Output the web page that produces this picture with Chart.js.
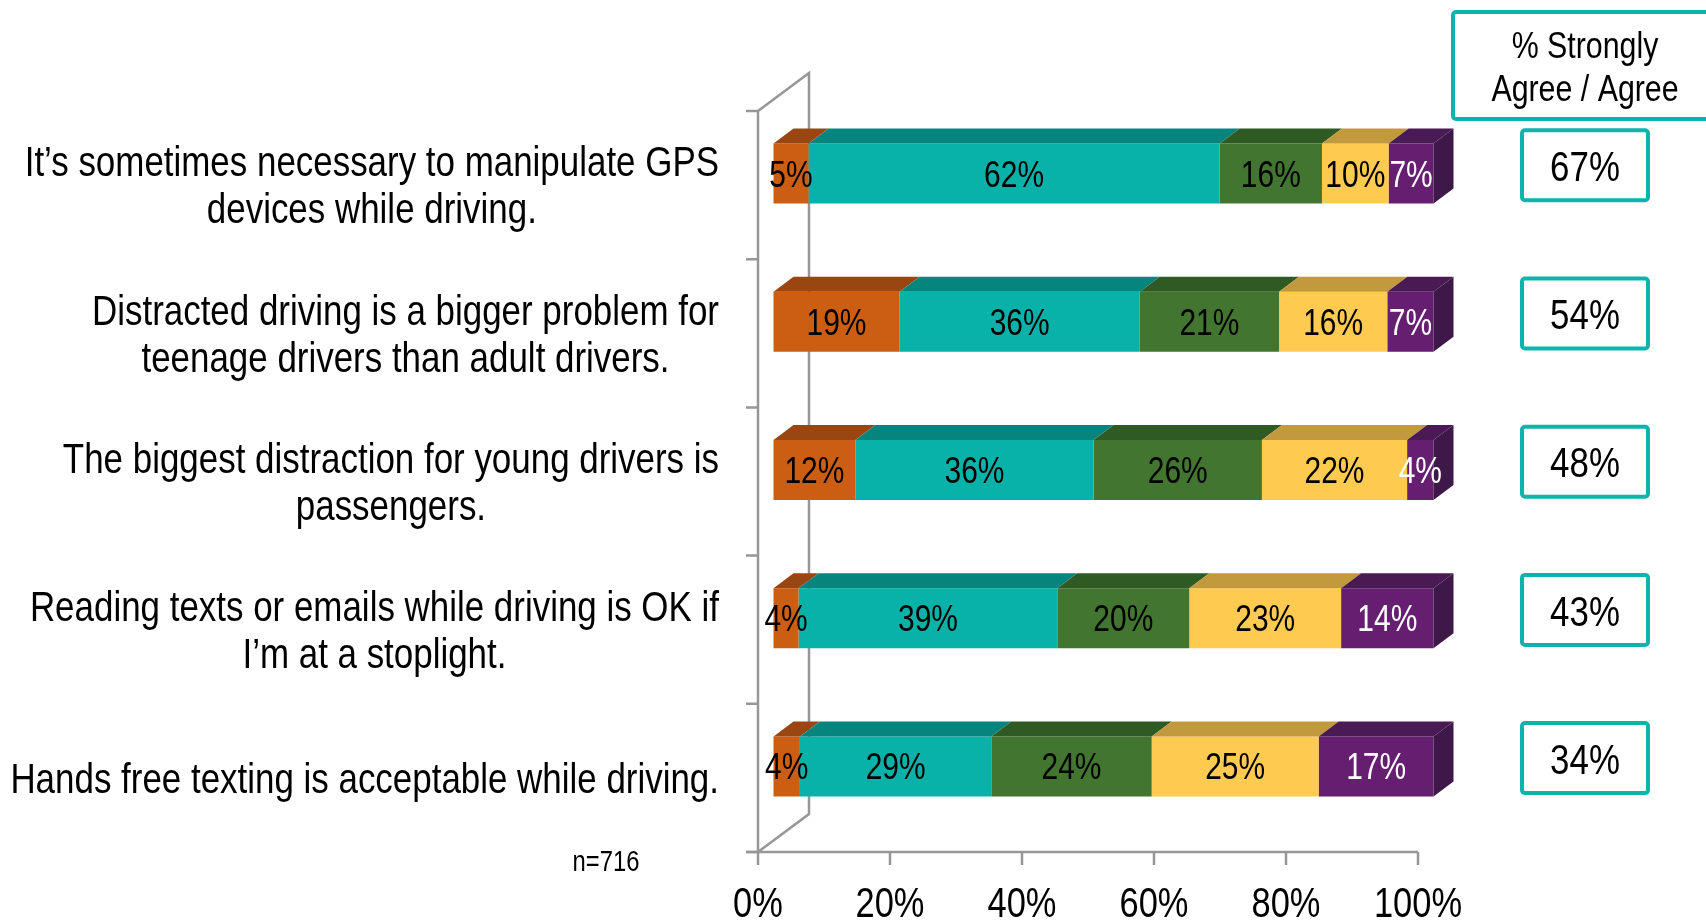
<!DOCTYPE html>
<html>
<head>
<meta charset="utf-8">
<script src="https://cdn.jsdelivr.net/npm/chart.js@4"></script>
<style>
  html, body { margin: 0; padding: 0; background: #ffffff; }
  #wrap { position: relative; width: 1706px; height: 922px; }
</style>
</head>
<body>
<div id="wrap"><canvas id="c"></canvas></div>
<script>
// ---------------- data ----------------
const categories = [
  ["It\u2019s sometimes necessary to manipulate GPS", "devices while driving."],
  ["Distracted driving is a bigger problem for", "teenage drivers than adult drivers."],
  ["The biggest distraction for young drivers is", "passengers."],
  ["Reading texts or emails while driving is OK if", "I\u2019m at a stoplight."],
  ["Hands free texting is acceptable while driving."]
];
const seriesNames = ["Strongly Agree", "Agree", "Neither", "Disagree", "Strongly Disagree"];
const stronglyAgree    = [5.3, 19.1, 12.4, 3.8, 4.0];
const agree            = [62.3, 36.4, 36.1, 39.2, 29.0];
const neither          = [15.5, 21.1, 25.5, 20.0, 24.3];
const disagree         = [10.1, 16.4, 22.0, 23.0, 25.3];
const stronglyDisagree = [6.8, 7.0, 4.0, 14.0, 17.4];
const agreeTotals = ["67%", "54%", "48%", "43%", "34%"];
const xTickValues = [0, 20, 40, 60, 80, 100];
const xTickLabels = ["0%", "20%", "40%", "60%", "80%", "100%"];
const headerLines = ["% Strongly", "Agree / Agree"];
const sampleNote = "n=716";

// ---------------- styles ----------------
const frontColors = ["#CB5E13", "#08B2A9", "#427530", "#FECA4F", "#651E70"];
const topColors   = ["#9A4612", "#06857E", "#2F5A24", "#C2993C", "#4A1A55"];
const sideColor   = "#3E1848";
const labelColors = ["#000000", "#000000", "#000000", "#000000", "#FFFFFF"];
const teal = "#0BB5AC";
const axisGray = "#979797";

function hasFont(name) {
  const c = document.createElement('canvas').getContext('2d');
  const s = 'abcdefghijklmnopqrstuvwxyz0123456789ABCDEFG';
  c.font = '40px monospace'; const w1 = c.measureText(s).width;
  c.font = '40px "' + name + '", monospace'; const w2 = c.measureText(s).width;
  return Math.abs(w1 - w2) > 0.5;
}
const NARROW = hasFont('Liberation Sans Narrow');
const FAMILY = NARROW ? '"Liberation Sans Narrow", "Liberation Sans", Arial, sans-serif' : '"Liberation Sans", Arial, sans-serif';
const SX = NARROW ? 1 : 0.82;

function measure(ctx, text, size) {
  ctx.save(); ctx.font = size + 'px ' + FAMILY;
  const w = ctx.measureText(text).width * SX; ctx.restore(); return w;
}
function drawText(ctx, text, x, y, size, align, color) {
  ctx.save();
  ctx.translate(x, y); ctx.scale(SX, 1);
  ctx.font = size + 'px ' + FAMILY;
  ctx.textAlign = align; ctx.textBaseline = 'middle';
  ctx.fillStyle = color; ctx.fillText(text, 0, 0);
  ctx.restore();
}

const SHIFT_X = 15.5, SHIFT_Y = -11.5;   // bar front face offset inside the 3D wall
const BAR_DX = 20, BAR_DY = 15;          // bar depth
const WALL_DX = 51, WALL_DY = 38;        // wall depth

const chart3d = {
  id: 'chart3d',
  beforeDatasetsDraw(chart) {
    const ctx = chart.ctx, xs = chart.scales.x;
    const a = chart.chartArea;
    const x0 = xs.getPixelForValue(0), x1 = xs.getPixelForValue(100);
    const top = a.top, bot = a.bottom;
    ctx.save();
    ctx.strokeStyle = axisGray; ctx.lineWidth = 2.5; ctx.lineCap = 'butt';
    ctx.beginPath();
    ctx.moveTo(x0, top); ctx.lineTo(x0, bot);
    ctx.moveTo(x0, top); ctx.lineTo(x0 + WALL_DX, top - WALL_DY);
    ctx.lineTo(x0 + WALL_DX, bot - WALL_DY); ctx.lineTo(x0, bot);
    ctx.moveTo(x0 - 12, bot); ctx.lineTo(x1, bot);
    ctx.stroke();
    const n = categories.length, step = (bot - top) / n;
    ctx.beginPath();
    for (let i = 0; i <= n; i++) {
      const yy = top + i * step;
      ctx.moveTo(x0 - 12, yy); ctx.lineTo(x0, yy);
    }
    xTickValues.forEach(v => {
      const px = xs.getPixelForValue(v);
      ctx.moveTo(px, bot); ctx.lineTo(px, bot + 13);
    });
    ctx.stroke();
    ctx.restore();
    ctx.save();
    ctx.translate(SHIFT_X, SHIFT_Y);
  },
  afterDatasetsDraw(chart) {
    const ctx = chart.ctx;
    const nds = chart.data.datasets.length;
    for (let d = 0; d < nds; d++) {
      const meta = chart.getDatasetMeta(d);
      meta.data.forEach((el) => {
        const p = el.getProps(['x', 'y', 'base', 'height'], true);
        const l = Math.min(p.x, p.base), r = Math.max(p.x, p.base);
        const t = p.y - p.height / 2, b = p.y + p.height / 2;
        ctx.fillStyle = topColors[d];
        ctx.beginPath();
        ctx.moveTo(l, t); ctx.lineTo(l + BAR_DX, t - BAR_DY);
        ctx.lineTo(r + BAR_DX, t - BAR_DY); ctx.lineTo(r, t); ctx.closePath();
        ctx.fill();
        if (d === nds - 1) {
          ctx.fillStyle = sideColor;
          ctx.beginPath();
          ctx.moveTo(r, t); ctx.lineTo(r + BAR_DX, t - BAR_DY);
          ctx.lineTo(r + BAR_DX, b - BAR_DY); ctx.lineTo(r, b); ctx.closePath();
          ctx.fill();
        }
      });
    }
    for (let d = 0; d < nds; d++) {
      const meta = chart.getDatasetMeta(d);
      const vals = chart.data.datasets[d].data;
      meta.data.forEach((el, i) => {
        const p = el.getProps(['x', 'y', 'base'], true);
        const cx = (p.x + p.base) / 2;
        drawText(ctx, Math.round(vals[i]) + '%', cx, p.y + 3, 36.5, 'center', labelColors[d]);
      });
    }
    ctx.restore();

    const xs = chart.scales.x, ys = chart.scales.y, a = chart.chartArea;
    const rightEdge = a.left - 39;
    const lh = 47;
    const catSize = 42.6;
    categories.forEach((lines, i) => {
      const cy = ys.getPixelForValue(i) + 3;
      const widest = Math.max(...lines.map(s => measure(ctx, s, catSize)));
      const cx = rightEdge - widest / 2;
      lines.forEach((s, k) => {
        const yy = cy + (k - (lines.length - 1) / 2) * lh;
        drawText(ctx, s, cx, yy, catSize, 'center', '#000');
      });
    });
    xTickValues.forEach((v, k) => {
      drawText(ctx, xTickLabels[k], xs.getPixelForValue(v), a.bottom + 53, 42, 'center', '#000');
    });
    drawText(ctx, sampleNote, a.left - 152, a.bottom + 11, 29, 'center', '#000');

    const xr = xs.getPixelForValue(100);
    ctx.save();
    ctx.strokeStyle = teal; ctx.lineWidth = 4;
    ctx.beginPath();
    ctx.roundRect(xr + 35, 12, 300, 107, 3);
    ctx.stroke();
    ctx.restore();
    const bcx = xr + 167;
    drawText(ctx, headerLines[0], bcx, 48, 37, 'center', '#000');
    drawText(ctx, headerLines[1], bcx, 91, 37, 'center', '#000');

    agreeTotals.forEach((txt, i) => {
      const cy = ys.getPixelForValue(i) - 19.8;
      ctx.save();
      ctx.strokeStyle = teal; ctx.lineWidth = 4;
      ctx.beginPath();
      ctx.roundRect(bcx - 63, cy - 35, 126, 70, 3);
      ctx.stroke();
      ctx.restore();
      drawText(ctx, txt, bcx, cy + 4, 42.5, 'center', '#000');
    });
  }
};

const seriesData = [stronglyAgree, agree, neither, disagree, stronglyDisagree];
const datasets = seriesNames.map((name, d) => ({
  label: name,
  data: seriesData[d],
  backgroundColor: frontColors[d],
  borderWidth: 0,
  barPercentage: 0.405,
  categoryPercentage: 1.0,
  clip: false
}));

new Chart(document.getElementById('c'), {
  type: 'bar',
  data: { labels: categories, datasets },
  options: {
    indexAxis: 'y',
    responsive: true,
    maintainAspectRatio: false,
    animation: false,
    layout: { padding: { left: 758, right: 288, top: 111, bottom: 70 } },
    plugins: { legend: { display: false }, tooltip: { enabled: false } },
    scales: {
      x: { stacked: true, min: 0, max: 100, display: false },
      y: { stacked: true, display: false }
    }
  },
  plugins: [chart3d]
});
</script>
</body>
</html>
